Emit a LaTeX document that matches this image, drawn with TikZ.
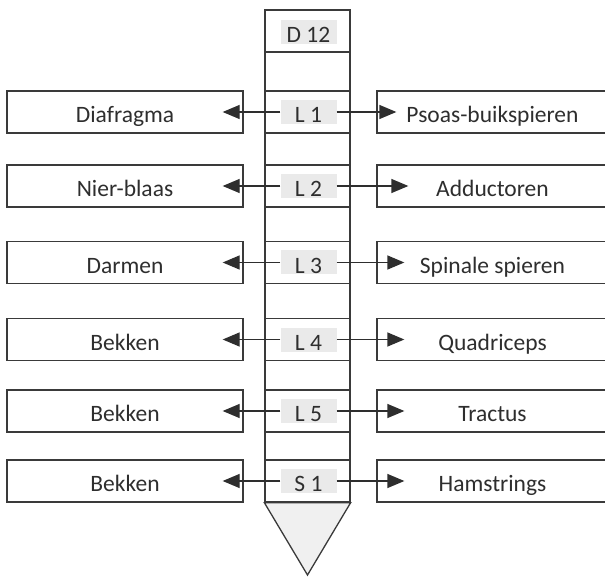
\documentclass[tikz,border=0pt]{standalone}
\usepackage{fontspec}
\setmainfont{Carlito}
\usetikzlibrary{arrows.meta}
\definecolor{edge}{HTML}{3A3A3A}
\definecolor{ink}{HTML}{2E2E2E}
\definecolor{tagfill}{HTML}{EAEAEA}
\definecolor{tipfill}{HTML}{F0F0F0}
\tikzset{
  txt/.style={font=\fontsize{23.5}{28}\selectfont, text=ink, text height=21.5pt, text depth=0pt},
  sidebox/.style={txt, draw=edge, line width=1.3pt, inner sep=0pt, minimum height=42pt},
  lbox/.style={sidebox, minimum width=236pt},
  rbox/.style={sidebox, minimum width=231pt},
  cell/.style={draw=edge, line width=1.3pt, minimum width=85pt, minimum height=42pt, inner sep=0pt},
  tag/.style={txt, fill=tagfill, inner sep=0pt, minimum width=56pt, minimum height=24pt},
  conn/.style={draw=ink, line width=1.3pt, -{Triangle[length=17pt,width=14pt]}}
}
\begin{document}
\begin{tikzpicture}[x=1pt,y=-1pt]
\useasboundingbox (0,0) rectangle (605,577);

% vertebral column outline and pointed lower end
\node[draw=edge, line width=1.3pt, minimum width=85pt, minimum height=492pt, inner sep=0pt] (col) at (307.5,256) {};
\coordinate (tip) at (307.5,575);
\draw[draw=edge, line width=1.3pt, fill=tipfill, line join=miter] (col.south west) -- (col.south east) -- (tip) -- cycle;

% segment cells
\node[cell] (c0) at (307.5,31) {};
\node[tag] (t0) at (308.5,32) {D 12};

\foreach \n/\y/\seg/\lt/\rt/\rs in {
  1/112/L 1/Diafragma/Psoas-buikspieren/-20,
  2/186/L 2/Nier-blaas/Adductoren/-32,
  3/262.5/L 3/Darmen/Spinale spieren/-28,
  4/339.5/L 4/Bekken/Quadriceps/-28,
  5/411/L 5/Bekken/Tractus/-28,
  6/481/S 1/Bekken/Hamstrings/-28}{
  \node[cell] (c\n) at (307.5,\y) {};
  \node[tag] (t\n) at (308.5,\y) {\seg};
  \node[lbox] (l\n) at (125,\y) {\lt};
  \node[rbox] (r\n) at (492.5,\y) {\rt};
  \draw[conn, shorten >=-21pt] (t\n.west) -- (l\n.east);
  \draw[conn, shorten >=\rs pt] (t\n.east) -- (r\n.west);
}
\end{tikzpicture}
\end{document}
